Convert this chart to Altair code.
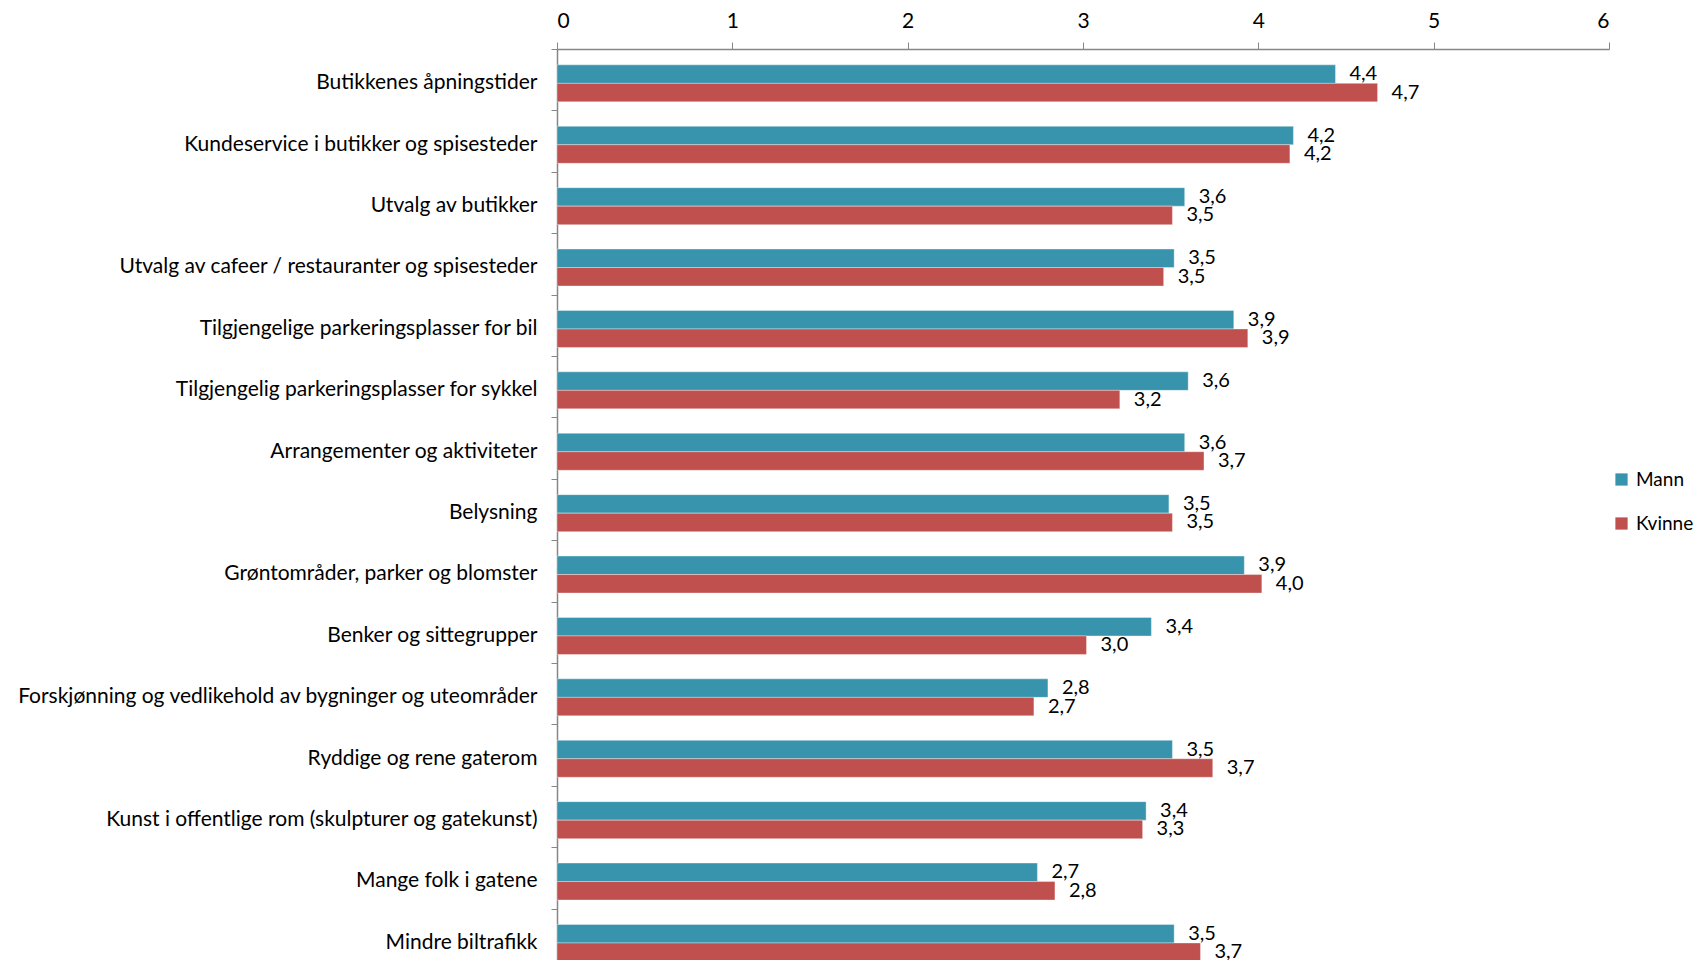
import altair as alt
import pandas as pd

categories = [
    "Butikkenes åpningstider",
    "Kundeservice i butikker og spisesteder",
    "Utvalg av butikker",
    "Utvalg av cafeer / restauranter og spisesteder",
    "Tilgjengelige parkeringsplasser for bil",
    "Tilgjengelig parkeringsplasser for sykkel",
    "Arrangementer og aktiviteter",
    "Belysning",
    "Grøntområder, parker og blomster",
    "Benker og sittegrupper",
    "Forskjønning og vedlikehold av bygninger og uteområder",
    "Ryddige og rene gaterom",
    "Kunst i offentlige rom (skulpturer og gatekunst)",
    "Mange folk i gatene",
    "Mindre biltrafikk",
]
mann = [4.44, 4.20, 3.58, 3.52, 3.86, 3.60, 3.58, 3.49, 3.92, 3.39, 2.80, 3.51, 3.36, 2.74, 3.52]
kvinne = [4.68, 4.18, 3.51, 3.46, 3.94, 3.21, 3.69, 3.51, 4.02, 3.02, 2.72, 3.74, 3.34, 2.84, 3.67]
series = ["Mann", "Kvinne"]
colors = ["#3894AD", "#C0504D"]
x_ticks = [0, 1, 2, 3, 4, 5, 6]

rows = []
for c, m, k in zip(categories, mann, kvinne):
    rows.append({"kategori": c, "kjønn": "Mann", "verdi": m})
    rows.append({"kategori": c, "kjønn": "Kvinne", "verdi": k})
df = pd.DataFrame(rows)

FONT = "Lato"

base = alt.Chart(df).transform_calculate(
    label="replace(format(datum.verdi, '.1f'), '.', ',')"
)

y_enc = alt.Y(
    "kategori:N",
    sort=categories,
    title=None,
    scale=alt.Scale(paddingInner=0, paddingOuter=0, range=[0, 921]),
    axis=alt.Axis(
        tickBand="extent",
        labelFontSize=21,
        labelFont=FONT,
        labelColor="#000000",
        labelPadding=14,
        labelLimit=700,
        labelOffset=3,
        tickSize=6,
        tickColor="#868686",
        domainColor="#868686",
        domainWidth=1.5,
    ),
)
yoff = alt.YOffset(
    "kjønn:N",
    sort=series,
    scale=alt.Scale(paddingInner=0, paddingOuter=0.66, align=0.65),
)
x_enc = alt.X(
    "verdi:Q",
    title=None,
    scale=alt.Scale(domain=[0, 6], nice=False),
    axis=alt.Axis(
        orient="top",
        values=x_ticks,
        format="d",
        grid=False,
        labelFontSize=21,
        labelFont=FONT,
        labelColor="#000000",
        labelPadding=11,
        tickSize=7,
        tickColor="#868686",
        domainColor="#868686",
        domainWidth=1.5,
    ),
)

bars = base.mark_bar(stroke="#ffffff", strokeWidth=0.6, strokeOpacity=0.6).encode(
    y=y_enc,
    yOffset=yoff,
    x=x_enc,
    color=alt.Color(
        "kjønn:N",
        sort=series,
        scale=alt.Scale(domain=series, range=colors),
        legend=alt.Legend(
            title=None,
            orient="none",
            legendX=1055,
            legendY=421,
            symbolType="square",
            symbolSize=150,
            symbolStrokeWidth=0,
            labelFontSize=19,
            labelFont=FONT,
            labelColor="#000000",
            rowPadding=24,
            labelOffset=5,
        ),
    ),
)

labels = base.mark_text(
    align="left", baseline="middle", dx=14, fontSize=20, font=FONT, color="#000000"
).encode(
    y=alt.Y("kategori:N", sort=categories),
    yOffset=alt.YOffset("kjønn:N", sort=series),
    x=alt.X("verdi:Q"),
    text="label:N",
)

chart = (
    alt.layer(bars, labels)
    .properties(
        width=1052,
        height=911,
        background="#ffffff",
        autosize=alt.AutoSizeParams(type="none"),
        padding={"left": 549, "top": 41, "right": 88, "bottom": 0},
    )
    .configure_view(stroke=None, strokeWidth=0)
)

chart.save("out.html", embed_options={"renderer": "svg", "actions": False})
